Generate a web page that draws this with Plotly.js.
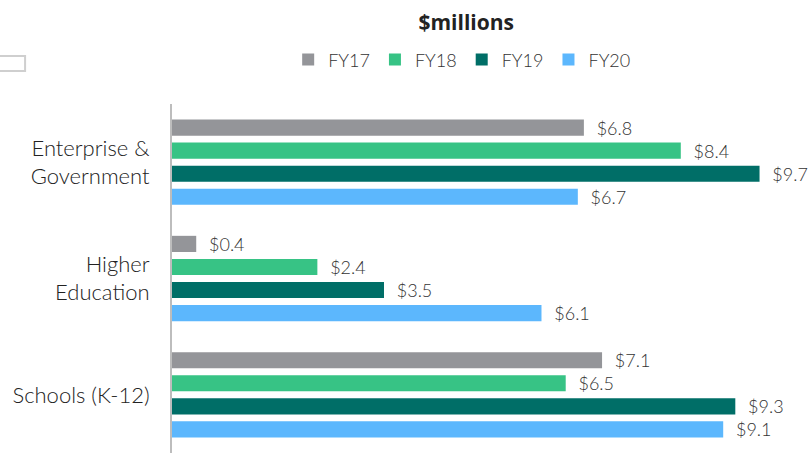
<!DOCTYPE html>
<html>
<head>
<meta charset="utf-8">
<script src="https://cdn.plot.ly/plotly-3.0.1.min.js"></script>
<style>html,body{margin:0;padding:0;background:#fff;}#chart{width:808px;height:453px;}</style>
</head>
<body>
<div id="chart"></div>
<script>
const categories = ['Enterprise &<br>Government', 'Higher<br>Education', 'Schools (K-12)'];
const seriesNames = ['FY17', 'FY18', 'FY19', 'FY20'];
const fy17 = [6.8, 0.4, 7.1];
const fy18 = [8.4, 2.4, 6.5];
const fy19 = [9.7, 3.5, 9.3];
const fy20 = [6.7, 6.1, 9.1];
const colors = ['#949599', '#37C385', '#006E67', '#5CB7FD'];

const values = [fy17, fy18, fy19, fy20];
const traces = values.map((v, i) => ({
  type: 'bar',
  orientation: 'h',
  name: seriesNames[i],
  y: categories,
  x: v,
  marker: {color: colors[i]},
  texttemplate: '\u00a0\u00a0$%{x:.1f}',
  textposition: 'outside',
  constraintext: 'none',
  cliponaxis: false,
  textfont: {family: 'Lato, sans-serif', size: 18, color: '#333', weight: 300},
  hoverinfo: 'skip'
}));

const layout = {
  width: 808, height: 453,
  margin: {l: 172, r: 0, t: 104, b: 0},
  paper_bgcolor: '#fff', plot_bgcolor: '#fff',
  font: {family: 'Lato, sans-serif', color: '#333'},
  barmode: 'group',
  bargap: 0.207,
  bargroupgap: 0.3,
  title: {
    text: '<b>$millions</b>',
    font: {family: '"Open Sans", sans-serif', size: 21, color: '#222', weight: 800},
    xref: 'container', x: 0.577, xanchor: 'center',
    yref: 'container', y: 0.951, yanchor: 'middle'
  },
  legend: {
    orientation: 'h',
    xref: 'container', yref: 'container',
    x: 0.572, xanchor: 'center', y: 0.868, yanchor: 'middle',
    font: {family: 'Lato, sans-serif', size: 18, color: '#333', weight: 300},
    traceorder: 'normal'
  },
  xaxis: {range: [0, 10.5], visible: false, fixedrange: true},
  yaxis: {
    type: 'category', autorange: 'reversed',
    showline: true, linecolor: '#bdbdbd', linewidth: 2,
    ticks: '', showgrid: false, zeroline: false,
    ticklabelstandoff: 16,
    tickfont: {family: 'Lato, sans-serif', size: 22, color: '#222', weight: 300}
  },
  shapes: [{
    type: 'rect', xref: 'paper', yref: 'paper',
    x0: -0.3, x1: -0.231, y0: 1.0946, y1: 1.1375,
    line: {color: '#cfcfcf', width: 2}, fillcolor: '#fff'
  }]
};

Plotly.newPlot('chart', traces, layout, {displayModeBar: false, staticPlot: true});
</script>
</body>
</html>
